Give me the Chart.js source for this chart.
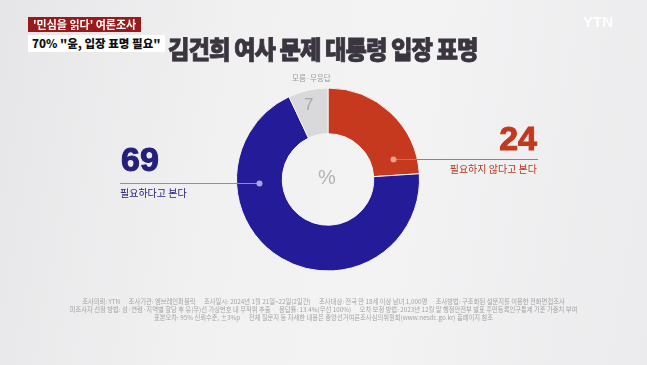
<!DOCTYPE html>
<html>
<head>
<meta charset="utf-8">
<script src="https://cdn.jsdelivr.net/npm/chart.js@4"></script>
<style>
  body { margin: 0; width: 647px; height: 365px; overflow: hidden; font-family: "Noto Sans CJK KR", "Noto Sans", sans-serif; }
  #wrap { position: relative; width: 647px; height: 365px;
    background: linear-gradient(100deg, #e6e6e8 0%, #f1f1f2 35%, #f3f3f4 60%, #ebebed 100%); }
  #chart { position: absolute; left: 0; top: 0; }
  .abs { position: absolute; white-space: nowrap; }
  .tag1 { left: 28px; top: 17px; background: #9a1a1c; color: #fff; font-size: 11px; line-height: 15px; padding: 0 5px; font-weight: bold; }
  .tag2 { left: 28px; top: 35px; background: #fff; color: #111; font-size: 11.5px; line-height: 17px; padding: 0 4px; font-weight: 900; }
  .title { left: 168px; top: 30px; font-size: 25px; font-weight: 900; color: #3b3540; letter-spacing: -1px; transform-origin: left top; -webkit-text-stroke: 0.8px #3b3540; }
  .ytn { left: 583px; top: 13px; color: #fff; font-family: "Liberation Sans", sans-serif; font-weight: bold; font-size: 15px; opacity: 0.9; }
  .num { font-family: "Liberation Sans", sans-serif; font-weight: bold; font-size: 34px; line-height: 34px; -webkit-text-stroke: 1px currentColor; }
  .sub { font-size: 10px; line-height: 12px; }
  .footer { left: 0; width: 647px; text-align: center; color: #a4a4a4; font-size: 6.3px; line-height: 10px; }
</style>
</head>
<body>
<div id="wrap">
  <canvas id="chart" width="647" height="365"></canvas>
  <div class="abs tag1">'민심을 읽다' 여론조사</div>
  <div class="abs tag2">70% "윤, 입장 표명 필요"</div>
  <div class="abs title" id="title">김건희 여사 문제 대통령 입장 표명</div>
  <div class="abs ytn">YTN</div>
  <div class="abs num" id="numYes" style="left:121px; top:142px; color:#24207a;"></div>
  <div class="abs sub" id="subYes" style="left:120px; top:187px; color:#24207a;"></div>
  <div class="abs num" id="numNo" style="right:110px; top:121px; color:#c2391f;"></div>
  <div class="abs sub" id="subNo" style="right:110px; top:163px; color:#b5361f;"></div>
  <div class="abs" id="subEtc" style="left:292px; top:72px; font-size:7.5px; color:#9a9a9a;"></div>
  <div class="abs" id="numEtc" style="left:304px; top:95px; font-size:17px; color:#a9a9a9; font-family:'Liberation Sans',sans-serif;"></div>
  <div class="abs" style="left:318px; top:166px; font-size:20px; color:#b3b3b3; font-family:'Liberation Sans',sans-serif;">%</div>
  <div class="abs footer" style="top:297px;">조사의뢰: YTN &nbsp;&nbsp;&nbsp;&nbsp; 조사기관: 엠브레인퍼블릭 &nbsp;&nbsp;&nbsp;&nbsp; 조사일시: 2024년 1월 21일~22일(2일간) &nbsp;&nbsp;&nbsp;&nbsp; 조사대상: 전국 만 18세 이상 남녀 1,000명 &nbsp;&nbsp;&nbsp;&nbsp; 조사방법: 구조화된 설문지를 이용한 전화면접조사</div>
  <div class="abs footer" style="top:305px;">피조사자 선정 방법: 성·연령·지역별 할당 후 유(무)선 가상번호 내 무작위 추출 &nbsp;&nbsp;&nbsp;&nbsp; 응답률: 13.4%(무선 100%) &nbsp;&nbsp;&nbsp;&nbsp; 오차 보정 방법: 2023년 12월 말 행정안전부 발표 주민등록인구통계 기준 가중치 부여</div>
  <div class="abs footer" style="top:313px;">표본오차: 95% 신뢰수준, ±3%p &nbsp;&nbsp;&nbsp;&nbsp; 전체 질문지 등 자세한 내용은 중앙선거여론조사심의위원회(www.nesdc.go.kr) 홈페이지 참조</div>
</div>
<script>
  // 응답 항목 (12시 방향부터 시계방향)
  const labels = ["필요하지 않다고 본다", "필요하다고 본다", "모름·무응답"];
  const values = [24, 69, 7];
  const colors = ["#c6391f", "#231b98", "#d9d9db"];

  document.querySelector("#numNo").innerHTML = values[0];
  document.querySelector("#subNo").innerHTML = labels[0];
  document.querySelector("#numYes").innerHTML = values[1];
  document.querySelector("#subYes").innerHTML = labels[1];
  document.querySelector("#numEtc").innerHTML = values[2];
  document.querySelector("#subEtc").innerHTML = labels[2];

  // 지시선 (라벨 밑줄 + 점)
  const leaderLines = {
    id: "leaderLines",
    afterDraw(chart) {
      const ctx = chart.ctx;
      const arc = chart.getDatasetMeta(0).data[0];
      const cx = arc.x, cy = arc.y;
      const rMid = (arc.innerRadius + arc.outerRadius) / 2;

      function leader(y, x2, side, lineColor, dotColor) {
        const dy = y - cy;
        const x1 = cx + side * Math.sqrt(rMid * rMid - dy * dy);
        ctx.save();
        ctx.strokeStyle = lineColor;
        ctx.lineWidth = 1;
        ctx.beginPath();
        ctx.moveTo(x1, y + 0.5);
        ctx.lineTo(x2, y + 0.5);
        ctx.stroke();
        ctx.fillStyle = dotColor;
        ctx.beginPath();
        ctx.arc(x1, y + 0.5, 3, 0, Math.PI * 2);
        ctx.fill();
        ctx.restore();
      }
      leader(183, 120, -1, "#8c88d4", "#aaa6ec");
      leader(159, 538, 1, "#d06a55", "#e9a08f");
    },
  };

  const ctx = document.querySelector("#chart").getContext("2d");
  const myChart = new Chart(ctx, {
    type: "doughnut",
    data: {
      labels: labels,
      datasets: [
        {
          data: values,
          backgroundColor: colors,
          borderColor: "#f4f4f4",
          borderWidth: 1,
          hoverOffset: 0,
        },
      ],
    },
    options: {
      responsive: false,
      animation: false,
      cutout: "50%",
      layout: { padding: { left: 236, right: 227, top: 86, bottom: 92 } },
      plugins: { legend: { display: false }, tooltip: { enabled: false } },
    },
    plugins: [leaderLines],
  });

  // 제목 폭 맞추기
  const title = document.querySelector("#title");
  title.style.transform = "scaleX(" + 310 / title.offsetWidth + ")";
</script>
</body>
</html>
